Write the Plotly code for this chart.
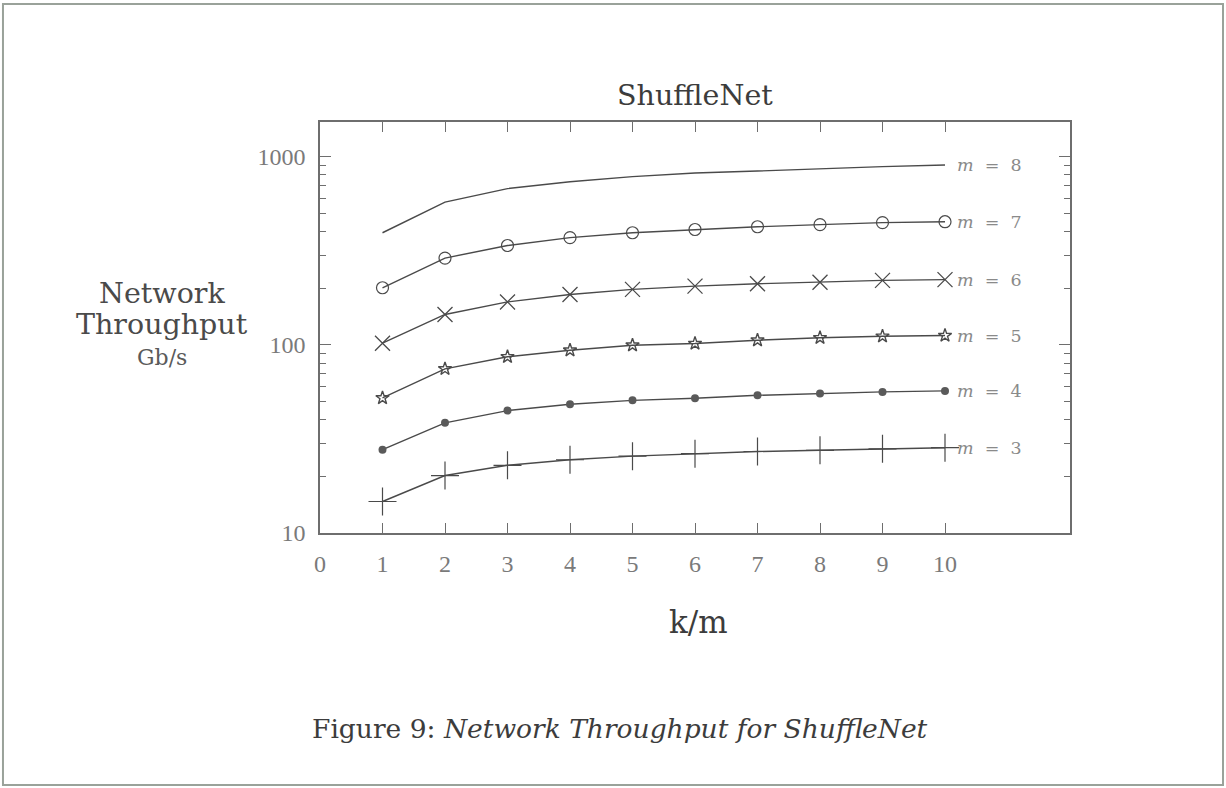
import numpy as np
import plotly.graph_objects as go

# ---- data ----
k_over_m = [1, 2, 3, 4, 5, 6, 7, 8, 9, 10]
m_values = [8, 7, 6, 5, 4, 3]
thr_m8 = [394, 573, 676, 736, 783, 818, 838, 864, 885, 902]
thr_m7 = [201, 289, 337, 371, 394, 410, 424, 435, 446, 451]
thr_m6 = [102, 145, 169, 185, 197, 205, 211, 215, 220, 222]
thr_m5 = [52.2, 74.5, 86.4, 93.6, 99.5, 101.6, 105.8, 109, 111, 112]
thr_m4 = [27.7, 38.5, 44.7, 48.3, 50.7, 52.0, 53.9, 55.1, 56.2, 56.9]
thr_m3 = [14.7, 20.2, 22.9, 24.5, 25.6, 26.4, 27.1, 27.5, 28.0, 28.4]
series = [thr_m8, thr_m7, thr_m6, thr_m5, thr_m4, thr_m3]
x_ticks = [0, 1, 2, 3, 4, 5, 6, 7, 8, 9, 10]
y_ticks = [10, 100, 1000]
y_tick_text = ["10", "100", "1000"]

# ---- styles ----
LINE = "#4a4a4a"
AX = "#6e6e6e"
SERIF = "DejaVu Serif"
NUMF = "Liberation Serif"
marker_styles = {
    8: None,
    7: dict(symbol="circle-open", size=12, color=LINE, line=dict(width=1.2, color=LINE)),
    6: dict(symbol="x-thin-open", size=15, color=LINE, line=dict(width=1.3, color=LINE)),
    5: dict(symbol="star-open", size=10, color=LINE, line=dict(width=1.4, color=LINE)),
    4: dict(symbol="circle", size=8, color="#5a5a5a", line=dict(width=0)),
    3: dict(symbol="cross-thin-open", size=20, color=LINE, line=dict(width=1.2, color=LINE)),
}

fig = go.Figure()
for m, ys in zip(m_values, series):
    mk = marker_styles[m]
    fig.add_trace(go.Scatter(
        x=k_over_m, y=ys,
        mode="lines" if mk is None else "lines+markers",
        line=dict(color=LINE, width=1.4),
        marker=mk if mk else None,
        showlegend=False,
        cliponaxis=False,
    ))
    fig.add_annotation(
        x=k_over_m[-1], y=np.log10(ys[-1]), xref="x", yref="y",
        text=f"<i>m</i>  =  {m}", showarrow=False, xanchor="left", yanchor="middle",
        xshift=10, font=dict(family=SERIF, size=17.5, color="#8a8a8a"),
    )

def label(x, y, text, size, color):
    fig.add_annotation(x=x, y=y, xref="paper", yref="paper", text=text,
                       showarrow=False, xanchor="center", yanchor="middle", borderpad=0,
                       font=dict(family=SERIF, size=size, color=color))

label(0.5, 1.0633, "ShuffleNet", 28.5, "#3c3c3c")
label(-0.2107, 0.5839, "Network", 28.5, "#4a4a4a")
label(-0.2107, 0.5061, "Throughput", 28.5, "#4a4a4a")
label(-0.2107, 0.4258, "Gb/s", 22, "#5a5a5a")
label(0.5053, -0.2165, "k/m", 31, "#3c3c3c")
label(0.4, -0.4745, "Figure 9: <i>Network Throughput for ShuffleNet</i>", 26.5, "#3c3c3c")

# scan border
fig.add_shape(type="rect", xref="paper", yref="paper",
              x0=-0.4227, x1=1.204, y0=-0.6131, y1=1.2871,
              line=dict(color="#9aa29a", width=2), fillcolor="rgba(0,0,0,0)")

fig.update_xaxes(
    range=[0, 12], tickvals=x_ticks, ticktext=[str(v) for v in x_ticks],
    ticks="inside", ticklen=10, tickwidth=1.2, tickcolor=AX,
    showline=True, linecolor=AX, linewidth=1.5, mirror="allticks",
    showgrid=False, zeroline=False,
    tickfont=dict(family=NUMF, size=24, color="#7a7a7a"),
    ticklabelstandoff=8,
)
fig.update_yaxes(
    type="log", range=[1, 3.184], tickvals=y_ticks, ticktext=y_tick_text,
    ticks="inside", ticklen=11, tickwidth=1.2, tickcolor=AX,
    minor=dict(ticks="inside", ticklen=6, tickwidth=1, tickcolor=AX, dtick="D1", showgrid=False),
    showline=True, linecolor=AX, linewidth=1.5, mirror="allticks",
    showgrid=False, zeroline=False,
    tickfont=dict(family=NUMF, size=24, color="#7a7a7a"),
    ticklabelstandoff=8,
)

fig.update_layout(
    width=1226, height=788,
    margin=dict(l=320, r=156, t=122, b=255),
    paper_bgcolor="white", plot_bgcolor="white",
    showlegend=False,
)

fig.write_html("out.html")
